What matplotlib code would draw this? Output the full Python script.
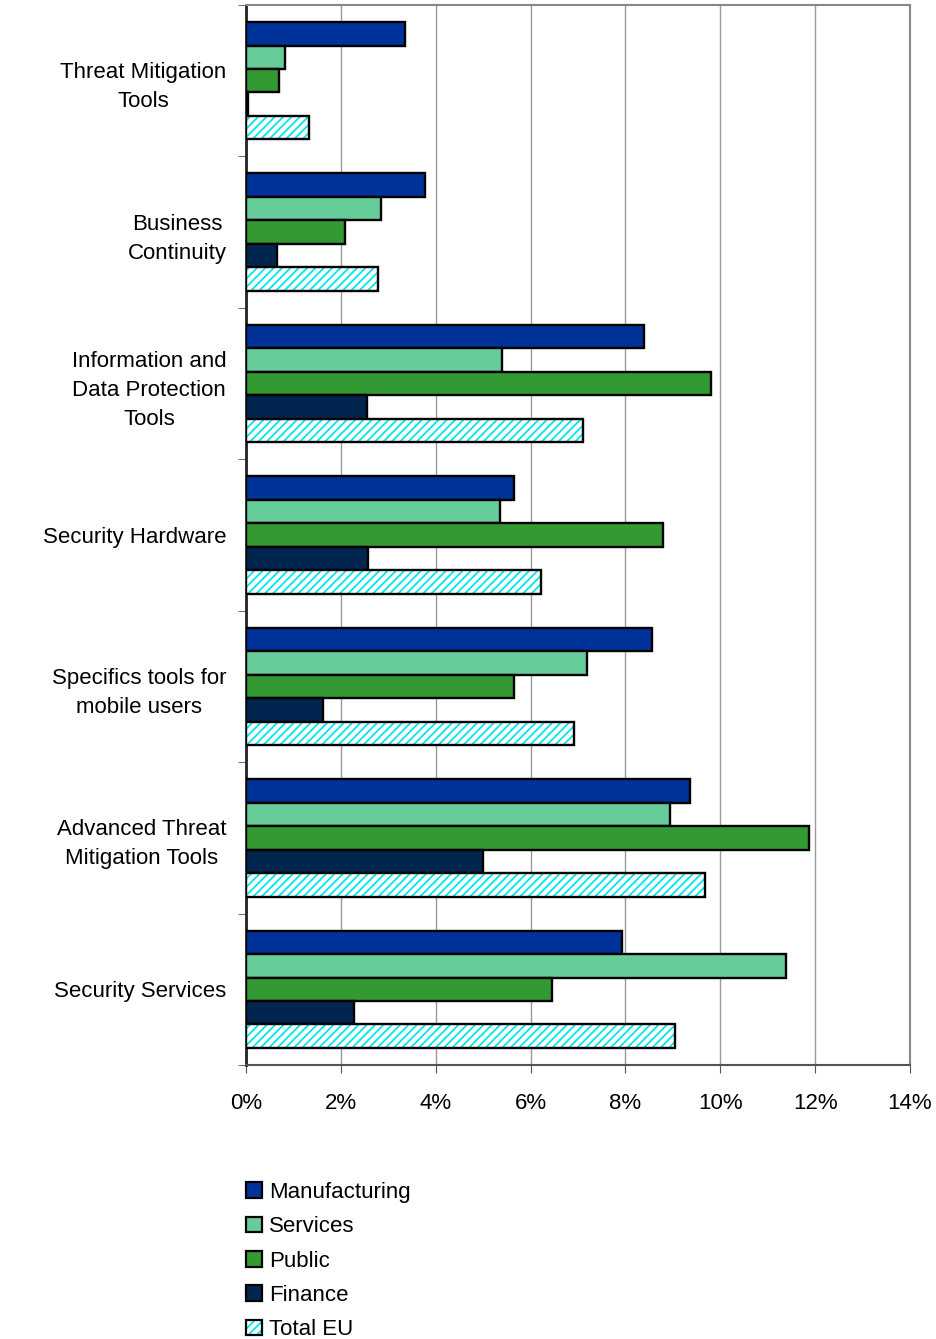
import numpy as np
import matplotlib.pyplot as plt
from matplotlib.patches import Patch

plt.rcParams['font.family'] = ['Liberation Sans', 'DejaVu Sans']
plt.rcParams['hatch.linewidth'] = 1.3

categories = ["Threat Mitigation\nTools", "Business\nContinuity",
              "Information and\nData Protection\nTools", "Security Hardware",
              "Specifics tools for\nmobile users", "Advanced Threat\nMitigation Tools",
              "Security Services"]
series = ["Manufacturing", "Services", "Public", "Finance", "Total EU"]
manufacturing = [3.35, 3.77, 8.39, 5.65, 8.56, 9.36, 7.93]
services = [0.82, 2.85, 5.40, 5.36, 7.19, 8.94, 11.39]
public = [0.70, 2.09, 9.80, 8.79, 5.65, 11.87, 6.45]
finance = [0.04, 0.65, 2.55, 2.57, 1.62, 5.00, 2.28]
total_eu = [1.33, 2.78, 7.11, 6.22, 6.92, 9.68, 9.05]
xticks = [0, 2, 4, 6, 8, 10, 12, 14]

colors = ["#003399", "#66CC99", "#339933", "#002650", "white"]
values = [manufacturing, services, public, finance, total_eu]
hatch_col = "#00E5EE"

fig = plt.figure(figsize=(9.36, 13.39), dpi=100)
ax = fig.add_axes([246 / 936, 1 - 1065 / 1339, 664 / 936, 1060 / 1339])

n = len(categories)
y = np.arange(n)
h = 0.155
for i, (vals, col) in enumerate(zip(values, colors)):
    pos = y - 2 * h + i * h
    if series[i] == "Total EU":
        ax.barh(pos, vals, height=h, color="white", edgecolor=hatch_col,
                hatch="////", linewidth=0, zorder=3)
        ax.barh(pos, vals, height=h, fill=False, edgecolor="black",
                linewidth=1.7, zorder=4)
    else:
        ax.barh(pos, vals, height=h, color=col, edgecolor="black",
                linewidth=1.7, zorder=3)

ax.set_ylim(n - 0.5, -0.5)
ax.set_xlim(0, 14)
ax.set_xticks(xticks)
ax.set_xticklabels([f"{v}%" for v in xticks], fontsize=16)
ax.set_yticks(y)
ax.set_yticklabels(categories, fontsize=16, multialignment="center", linespacing=1.5)
ax.set_yticks(np.arange(n + 1) - 0.5, minor=True)
ax.tick_params(axis="y", which="major", length=0, pad=14)
ax.tick_params(axis="y", which="minor", length=6, color="#555555")
ax.tick_params(axis="x", length=6, color="#555555", pad=14)
ax.xaxis.grid(True, color="#999999", linewidth=1, zorder=0)
ax.set_axisbelow(True)

for s in ["top", "right"]:
    ax.spines[s].set_color("#888888")
    ax.spines[s].set_linewidth(1.5)
ax.spines["left"].set_color("#222222")
ax.spines["left"].set_linewidth(2)
ax.spines["bottom"].set_color("#555555")
ax.spines["bottom"].set_linewidth(1.5)

handles = []
for s, col in zip(series, colors):
    if s == "Total EU":
        handles.append((Patch(facecolor="white", edgecolor=hatch_col, hatch="////", linewidth=0),
                        Patch(fill=False, edgecolor="black", linewidth=1.6)))
    else:
        handles.append(Patch(facecolor=col, edgecolor="black", linewidth=1.6))
fig.legend(handles=handles, labels=series, loc="upper left",
           bbox_to_anchor=(246 / 936, 1 - 1182 / 1339),
           frameon=False, fontsize=16, handlelength=0.72, handleheight=0.72,
           handletextpad=0.3, labelspacing=0.6, borderaxespad=0, borderpad=0)

fig.savefig("out.png", dpi=100)
